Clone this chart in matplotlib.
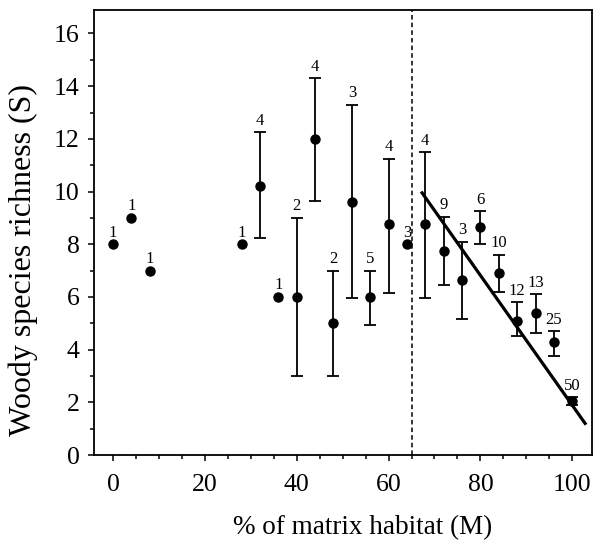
import matplotlib

matplotlib.use("Agg")
import matplotlib.pyplot as plt
import numpy as np
from matplotlib.ticker import MultipleLocator

plt.rcParams["font.family"] = ["Liberation Serif", "DejaVu Serif"]

# % matrix habitat, mean richness, error bar bounds, number of sites
matrix_pct = [0, 4, 8, 28, 32, 36, 40, 44, 48, 52, 56, 60, 64,
              68, 72, 76, 80, 84, 88, 92, 96, 100]
richness = [8, 9, 7, 8, 10.2, 6, 6, 12, 5, 9.6, 6, 8.75, 8,
            8.75, 7.75, 6.65, 8.65, 6.9, 5.1, 5.4, 4.3, 2.05]
err_low = [8, 9, 7, 8, 8.25, 6, 3, 9.65, 3, 5.95, 4.95, 6.15, 8,
           5.95, 6.45, 5.15, 8.0, 6.2, 4.5, 4.65, 3.75, 1.9]
err_high = [8, 9, 7, 8, 12.25, 6, 9, 14.3, 7, 13.3, 7, 11.25, 8,
            11.5, 9.05, 8.1, 9.25, 7.6, 5.8, 6.1, 4.7, 2.2]
n_sites = [1, 1, 1, 1, 4, 1, 2, 4, 2, 3, 5, 4, 3,
           4, 9, 3, 6, 10, 12, 13, 25, 50]

threshold = 65
fit_x = [67.3, 102.8]
fit_y = [9.95, 1.2]

fig = plt.figure(figsize=(6.05, 5.43), dpi=100)
ax = fig.add_axes([0.155, 0.162, 0.8235, 0.82])

x = np.array(matrix_pct)
y = np.array(richness)
lo = y - np.array(err_low)
hi = np.array(err_high) - y
has_err = (lo > 0) | (hi > 0)

ax.errorbar(x[has_err], y[has_err], yerr=[lo[has_err], hi[has_err]],
            fmt="none", ecolor="black", elinewidth=1.3, capsize=4,
            capthick=1.3)
ax.plot(x, y, "o", color="black", markersize=6.5)

# site counts above each point / error bar
for xi, top, n in zip(matrix_pct, err_high, n_sites):
    ax.annotate(str(n), (xi, top), xytext=(0, 2.5), textcoords="offset points",
                ha="center", va="bottom", fontsize=12)

ax.axvline(threshold, color="black", linestyle=(0, (3, 2)), linewidth=1.1)
ax.plot(fit_x, fit_y, color="black", linewidth=2.3)

ax.set_xlim(-4.2, 104.3)
ax.set_ylim(0, 16.9)
ax.xaxis.set_major_locator(MultipleLocator(20))
ax.xaxis.set_minor_locator(MultipleLocator(5))
ax.yaxis.set_major_locator(MultipleLocator(2))
ax.yaxis.set_minor_locator(MultipleLocator(1))
ax.tick_params(which="both", direction="out", width=1.1, labelsize=18.5)
ax.tick_params(which="major", length=4.3)
ax.tick_params(which="minor", length=2.8)
ax.tick_params(axis="x", which="major", pad=9)
ax.tick_params(axis="y", which="major", pad=5.8)
for s in ax.spines.values():
    s.set_linewidth(1.3)

ax.set_xlabel("% of matrix habitat (M)", fontsize=19.5)
ax.set_ylabel("Woody species richness (S)", fontsize=23)
ax.xaxis.set_label_coords(0.54, -0.134)
ax.yaxis.set_label_coords(-0.112, 0.439)

fig.savefig("out.png", dpi=100)
